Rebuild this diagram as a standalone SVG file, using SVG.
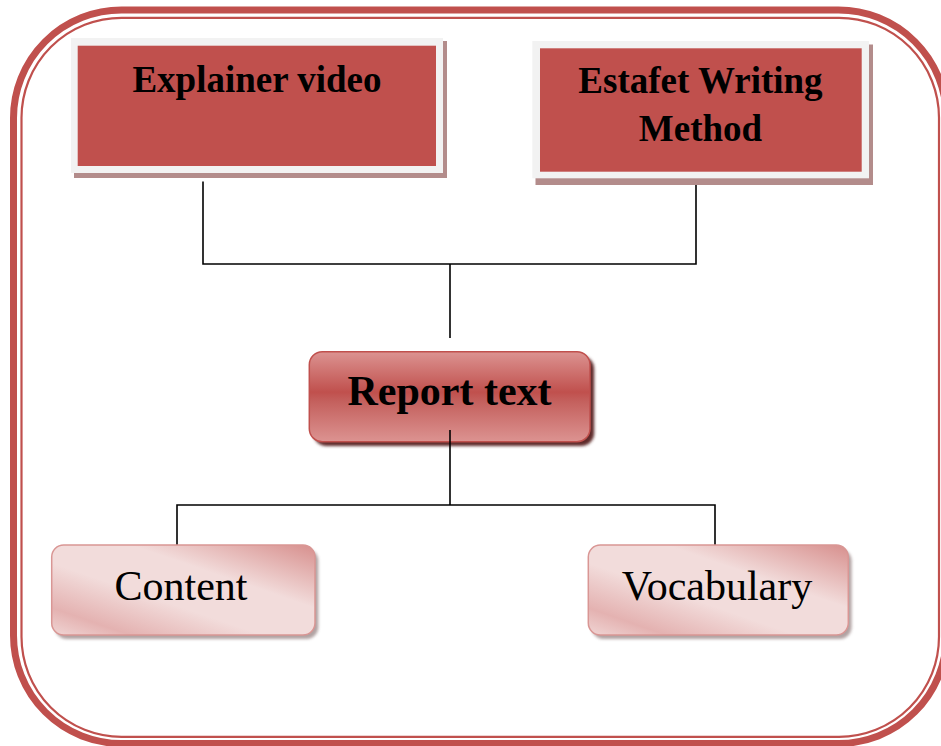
<svg xmlns="http://www.w3.org/2000/svg" width="941" height="746" viewBox="0 0 941 746">
  <defs>
    <linearGradient id="gradMain" x1="0" y1="0" x2="0" y2="1">
      <stop offset="0" stop-color="#dc9391"/>
      <stop offset="0.45" stop-color="#c0504d"/>
      <stop offset="0.55" stop-color="#c4605d"/>
      <stop offset="1" stop-color="#dc9391"/>
    </linearGradient>
    <linearGradient id="gradSoft" x1="1" y1="0" x2="0" y2="1">
      <stop offset="0" stop-color="#d78f8d"/>
      <stop offset="0.35" stop-color="#f2dcdb"/>
      <stop offset="0.6" stop-color="#f2dcdb"/>
      <stop offset="0.85" stop-color="#e4b2b1"/>
      <stop offset="1" stop-color="#f0d5d4"/>
    </linearGradient>
    <filter id="soft" x="-10%" y="-10%" width="130%" height="140%">
      <feGaussianBlur stdDeviation="1.5"/>
    </filter>
  </defs>
  <style>
    .frame { fill: none; stroke: #c0504d; }
    .box-pad { fill: #f2f2f2; }
    .box-fill { fill: #c0504d; }
    .box-shadow { fill: #b38c8b; }
    .title { font-family: "Liberation Serif", "Times New Roman", serif; font-weight: bold; fill: #000; text-anchor: middle; }
    .label { font-family: "Liberation Serif", "Times New Roman", serif; fill: #000; text-anchor: middle; }
    .conn { stroke: #000; stroke-width: 1.6; fill: none; }
  </style>

  <rect width="941" height="746" fill="#ffffff"/>

  <!-- double-line rounded frame -->
  <g id="frame">
    <rect class="frame" x="13.5" y="10" width="933" height="733.5" rx="108" ry="108" stroke-width="7"/>
    <rect class="frame" x="21.5" y="17.8" width="917.5" height="719" rx="100" ry="100" stroke-width="2.2"/>
  </g>

  <!-- connectors -->
  <g id="connectors">
    <path class="conn" d="M203 181.5 V264 H696 V181.5"/>
    <path class="conn" d="M450 264 V338"/>
    <path class="conn" d="M177 545 V505 H715 V545"/>
  </g>

  <g id="explainer-video">
    <rect class="box-shadow" x="74" y="41" width="373" height="137"/>
    <rect class="box-pad" x="71" y="38" width="372" height="135"/>
    <rect class="box-fill" x="77.7" y="45.7" width="358.3" height="120.3"/>
    <text class="title" x="257" y="91.5" font-size="37">Explainer video</text>
  </g>

  <g id="estafet-writing-method">
    <rect class="box-shadow" x="535.5" y="44.5" width="337.5" height="140.5"/>
    <rect class="box-pad" x="532.3" y="41" width="336.7" height="137.3"/>
    <rect class="box-fill" x="540" y="48.3" width="321.7" height="123.4"/>
    <text class="title" x="700.5" y="93.3" font-size="37">Estafet Writing</text>
    <text class="title" x="700.5" y="141" font-size="37">Method</text>
  </g>

  <g id="report-text">
    <rect x="313.5" y="356" width="280.7" height="90" rx="13" fill="#5e2a29" filter="url(#soft)"/>
    <rect x="309.3" y="351.7" width="280.7" height="90" rx="13" fill="url(#gradMain)" stroke="#c0504d" stroke-width="1.5"/>
    <path class="conn" d="M450 430 V505"/>
    <text class="title" x="449.5" y="405" font-size="42">Report text</text>
  </g>

  <g id="content">
    <rect x="55" y="549" width="263.3" height="90" rx="12" fill="#9e8b8b" opacity="0.8" filter="url(#soft)"/>
    <rect x="51.7" y="545" width="263.3" height="90" rx="12" fill="url(#gradSoft)" stroke="#d99694" stroke-width="1.5"/>
    <text class="label" x="181" y="599.5" font-size="42">Content</text>
  </g>

  <g id="vocabulary">
    <rect x="591.6" y="549" width="260" height="90" rx="12" fill="#9e8b8b" opacity="0.8" filter="url(#soft)"/>
    <rect x="588.3" y="545" width="260" height="90" rx="12" fill="url(#gradSoft)" stroke="#d99694" stroke-width="1.5"/>
    <text class="label" x="717" y="599.5" font-size="42">Vocabulary</text>
  </g>
</svg>
